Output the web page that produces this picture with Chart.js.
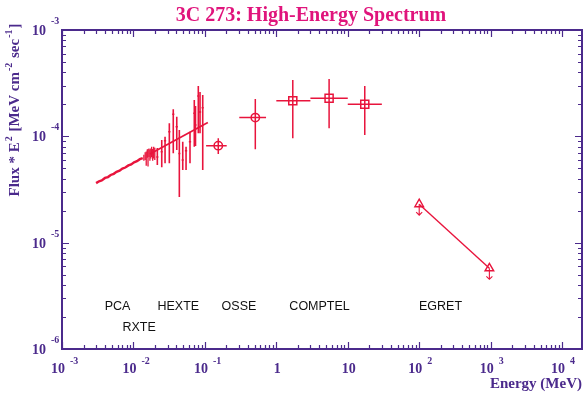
<!DOCTYPE html>
<html><head><meta charset="utf-8">
<script src="https://cdn.jsdelivr.net/npm/chart.js@4.4.1/dist/chart.umd.min.js"></script>
<style>html,body{margin:0;padding:0;background:#fff;overflow:hidden}#wrap{width:584px;height:394px}</style>
</head><body><div id="wrap"><canvas id="c" width="584" height="394"></canvas></div>
<script>
// ---------- DATA ----------
const titleText = '3C 273: High-Energy Spectrum';
const xAxisTitle = 'Energy (MeV)';
const xTickExps = [-3, -2, -1, 0, 1, 2, 3, 4];
const yTickExps = [-3, -4, -5, -6];

// RXTE PCA spectrum (dense data, drawn as a line)
const pcaE = [0.0030,0.0033,0.0036,0.0040,0.0044,0.0048,0.0053,0.0058,0.0064,0.0070,0.0077,0.0085,0.0093,0.0102,0.0112,0.0123,0.0135];
const pcaF = [3.63e-5,3.78e-5,3.85e-5,4.06e-5,4.14e-5,4.33e-5,4.44e-5,4.64e-5,4.76e-5,4.97e-5,5.09e-5,5.33e-5,5.45e-5,5.70e-5,5.83e-5,6.10e-5,6.24e-5];
// PCA high-energy channels with error bars
const pcaCE  = [0.0140,0.0146,0.0151,0.0156,0.0160,0.0165,0.0170,0.0175,0.0180,0.0186,0.0192,0.0199];
const pcaCF  = [6.30e-5,6.55e-5,6.40e-5,6.85e-5,6.60e-5,7.05e-5,6.70e-5,6.95e-5,7.20e-5,6.75e-5,7.10e-5,6.90e-5];
const pcaCLo = [5.9e-5,6.0e-5,5.3e-5,6.3e-5,5.2e-5,6.4e-5,5.9e-5,6.2e-5,6.4e-5,5.9e-5,6.2e-5,6.0e-5];
const pcaCHi = [6.7e-5,7.1e-5,7.2e-5,7.5e-5,7.6e-5,7.7e-5,7.5e-5,7.7e-5,8.0e-5,7.6e-5,8.0e-5,7.8e-5];
// RXTE HEXTE
const hexteE  = [0.0216,0.0249,0.0277,0.0318,0.0361,0.0404,0.0439,0.0490,0.0545,0.0619,0.0711,0.0739,0.0809,0.0855,0.0933];
const hexteF  = [6.39e-5,7.17e-5,9.10e-5,1.105e-4,1.612e-4,1.232e-4,6.9e-5,5.99e-5,7.33e-5,8.90e-5,1.646e-4,1.278e-4,2.395e-4,1.693e-4,1.859e-4];
const hexteLo = [5.38e-5,5.11e-5,5.58e-5,5.58e-5,6.92e-5,7.44e-5,2.69e-5,4.83e-5,4.83e-5,5.58e-5,7.99e-5,8.11e-5,1.068e-4,1.068e-4,4.83e-5];
const hexteHi = [7.77e-5,9.24e-5,9.92e-5,1.326e-4,1.796e-4,1.530e-4,1.147e-4,8.90e-5,7.99e-5,1.105e-4,2.196e-4,1.929e-4,2.973e-4,2.611e-4,2.447e-4];
const hexteELo = [0.0208,0.0240,0.0267,0.0306,0.0348,0.0389,0.0423,0.0472,0.0525,0.0596,0.0685,0.0712,0.0779,0.0824,0.0899];
const hexteEHi = [0.0224,0.0258,0.0287,0.0330,0.0374,0.0419,0.0455,0.0508,0.0565,0.0642,0.0737,0.0767,0.0839,0.0887,0.0967];
// power-law model through RXTE data
const modelE = [0.017, 0.11];
const modelF = [6.83e-5, 1.35e-4];
// CGRO OSSE
const osseE = [0.154, 0.508];
const osseELo = [0.104, 0.303];
const osseEHi = [0.202, 0.718];
const osseF = [8.17e-5, 1.50e-4];
const osseLo = [6.82e-5, 7.55e-5];
const osseHi = [9.58e-5, 2.25e-4];
// CGRO COMPTEL
const comptelE = [1.70, 5.48, 17.3];
const comptelELo = [1.0, 3.0, 10.0];
const comptelEHi = [3.0, 10.0, 30.0];
const comptelF = [2.16e-4, 2.28e-4, 2.00e-4];
const comptelLo = [9.58e-5, 1.19e-4, 1.03e-4];
const comptelHi = [3.39e-4, 3.46e-4, 2.97e-4];
// CGRO EGRET (upper limits)
const egretE = [100, 960];
const egretF = [2.30e-5, 5.74e-6];
// instrument labels
const instLabels = ['PCA', 'HEXTE', 'OSSE', 'COMPTEL', 'EGRET', 'RXTE'];
const instLabelE = [6.0e-3, 0.0425, 0.300, 4.03, 199, 0.0120];
const instLabelF = [2.33e-6, 2.33e-6, 2.33e-6, 2.33e-6, 2.33e-6, 1.48e-6];

// ---------- STYLE ----------
const RED = '#e8143c';
const PURPLE = '#4b2a8c';
const PINK = '#e0147c';
const SERIF = '"Liberation Serif", "Times New Roman", serif';
const SANS = '"Liberation Sans", Arial, sans-serif';

const pts = (xs, ys) => xs.map((x, i) => ({x: x, y: ys[i]}));
const errs = (a, b) => a.map((v, i) => [v, b[i]]);

const errorBarPlugin = {
  id: 'errbars',
  afterDatasetsDraw(chart) {
    const ctx = chart.ctx, xs = chart.scales.x, ys = chart.scales.y;
    chart.data.datasets.forEach(ds => {
      if (!ds.errY && !ds.errX && !ds.arrows) return;
      ctx.save();
      ctx.strokeStyle = RED;
      ctx.lineWidth = ds.errWidth || 1.4;
      ds.data.forEach((p, i) => {
        const px = xs.getPixelForValue(p.x), py = ys.getPixelForValue(p.y);
        ctx.beginPath();
        if (ds.errY) {
          ctx.moveTo(px, ys.getPixelForValue(ds.errY[i][0]));
          ctx.lineTo(px, ys.getPixelForValue(ds.errY[i][1]));
        }
        if (ds.errX) {
          ctx.moveTo(xs.getPixelForValue(ds.errX[i][0]), py);
          ctx.lineTo(xs.getPixelForValue(ds.errX[i][1]), py);
        }
        if (ds.arrows) {
          ctx.moveTo(px, py);
          ctx.lineTo(px, py + 11);
          ctx.moveTo(px - 3, py + 8);
          ctx.lineTo(px, py + 11);
          ctx.lineTo(px + 3, py + 8);
        }
        ctx.stroke();
      });
      ctx.restore();
    });
  }
};

function drawPow(ctx, x, y, exp, bigSize, smallSize, rise, gap) {
  ctx.font = 'bold ' + bigSize + 'px ' + SERIF;
  ctx.textAlign = 'right';
  ctx.fillText('10', x, y);
  ctx.font = 'bold ' + smallSize + 'px ' + SERIF;
  ctx.textAlign = 'left';
  ctx.fillText(String(exp), x + gap, y - rise);
}

const framePlugin = {
  id: 'frame',
  afterDraw(chart) {
    const ctx = chart.ctx, xs = chart.scales.x, ys = chart.scales.y;
    const a = chart.chartArea;
    ctx.save();
    ctx.strokeStyle = PURPLE;
    ctx.fillStyle = PURPLE;
    ctx.lineWidth = 2;
    ctx.strokeRect(a.left, a.top, a.right - a.left, a.bottom - a.top);
    ctx.lineWidth = 1.2;
    ctx.beginPath();
    // x ticks (bottom and top, pointing inward)
    for (let d = -3; d <= 4; d++) {
      for (let k = 1; k <= 9; k++) {
        const v = k * Math.pow(10, d);
        if (v < xs.min * 0.999 || v > xs.max) continue;
        const px = Math.round(xs.getPixelForValue(v)) + 0.5;
        const len = k === 1 ? 7 : 4;
        ctx.moveTo(px, a.bottom); ctx.lineTo(px, a.bottom - len);
        ctx.moveTo(px, a.top); ctx.lineTo(px, a.top + len);
      }
    }
    // y ticks (left and right, pointing inward)
    for (let d = -6; d <= -3; d++) {
      for (let k = 1; k <= 9; k++) {
        const v = k * Math.pow(10, d);
        if (v < ys.min * 0.999 || v > ys.max * 1.001) continue;
        const py = Math.round(ys.getPixelForValue(v)) + 0.5;
        const len = k === 1 ? 7 : 4;
        ctx.moveTo(a.left, py); ctx.lineTo(a.left + len, py);
        ctx.moveTo(a.right, py); ctx.lineTo(a.right - len, py);
      }
    }
    ctx.stroke();

    // x tick labels
    ctx.textBaseline = 'alphabetic';
    xTickExps.forEach(e => {
      const px = xs.getPixelForValue(Math.pow(10, e));
      if (e === 0 || e === 1) {
        ctx.font = 'bold 14px ' + SERIF;
        ctx.textAlign = 'center';
        ctx.fillText(e === 0 ? '1' : '10', px + 1, 373);
      } else {
        drawPow(ctx, px + 3, 373, e, 14, 10, 9, 5);
      }
    });
    // y tick labels
    yTickExps.forEach(e => {
      const py = ys.getPixelForValue(Math.pow(10, e));
      drawPow(ctx, 46, py + 5, e, 14, 10, 11, 5);
    });

    // x axis title
    ctx.font = 'bold 15px ' + SERIF;
    ctx.textAlign = 'right';
    ctx.fillText(xAxisTitle, a.right, 388);

    // y axis title (rotated, with superscripts)
    const parts = [['Flux * E', 0], ['2', 1], [' [MeV cm', 0], ['-2', 1], [' sec', 0], ['-1', 1], [']', 0]];
    const fMain = 'bold 15px ' + SERIF, fSup = 'bold 10px ' + SERIF;
    let total = 0;
    parts.forEach(p => { ctx.font = p[1] ? fSup : fMain; total += ctx.measureText(p[0]).width + (p[1] ? 2 : 0); });
    ctx.save();
    ctx.translate(19, 110);
    ctx.rotate(-Math.PI / 2);
    ctx.textAlign = 'left';
    let cx = -total / 2;
    parts.forEach(p => {
      ctx.font = p[1] ? fSup : fMain;
      if (p[1]) cx += 1;
      ctx.fillText(p[0], cx, p[1] ? -7 : 0);
      cx += ctx.measureText(p[0]).width + (p[1] ? 1 : 0);
    });
    ctx.restore();

    // title
    ctx.fillStyle = PINK;
    ctx.font = 'bold 20px ' + SERIF;
    ctx.textAlign = 'center';
    ctx.fillText(titleText, 311, 21);

    // instrument labels
    ctx.fillStyle = '#111';
    ctx.font = '12.5px ' + SANS;
    ctx.textAlign = 'center';
    instLabels.forEach((t, i) => {
      ctx.fillText(t, xs.getPixelForValue(instLabelE[i]), ys.getPixelForValue(instLabelF[i]));
    });
    ctx.restore();
  }
};

new Chart(document.getElementById('c').getContext('2d'), {
  type: 'scatter',
  data: {
    datasets: [
      {data: pts(pcaE, pcaF), showLine: true, borderColor: RED, borderWidth: 2.4, pointRadius: 0},
      {data: pts(modelE, modelF), showLine: true, borderColor: RED, borderWidth: 1.7, pointRadius: 0},
      {data: pts(pcaCE, pcaCF), pointRadius: 0, errY: errs(pcaCLo, pcaCHi),
        errX: pcaCE.map(e => [e * 0.985, e * 1.015]), errWidth: 1.3},
      {data: pts(hexteE, hexteF), pointRadius: 0, errY: errs(hexteLo, hexteHi), errX: errs(hexteELo, hexteEHi), errWidth: 1.6},
      {data: pts(osseE, osseF), pointStyle: 'circle', pointRadius: 4.2, borderColor: RED, borderWidth: 1.5,
        backgroundColor: 'rgba(0,0,0,0)', errY: errs(osseLo, osseHi), errX: errs(osseELo, osseEHi), errWidth: 1.5},
      {data: pts(comptelE, comptelF), pointStyle: 'rect', pointRadius: 5.7, borderColor: RED, borderWidth: 1.5,
        backgroundColor: 'rgba(0,0,0,0)', errY: errs(comptelLo, comptelHi), errX: errs(comptelELo, comptelEHi), errWidth: 1.5},
      {data: pts(egretE, egretF), showLine: true, pointStyle: 'triangle', pointRadius: 5, borderColor: RED,
        borderWidth: 1.4, backgroundColor: 'rgba(0,0,0,0)', arrows: true, errWidth: 1.1}
    ]
  },
  options: {
    responsive: false,
    animation: false,
    devicePixelRatio: 1,
    layout: {autoPadding: false, padding: {left: 62, right: 2, top: 30, bottom: 45}},
    plugins: {legend: {display: false}, tooltip: {enabled: false}, title: {display: false}},
    scales: {
      x: {type: 'logarithmic', min: 1e-3, max: 19000, display: false},
      y: {type: 'logarithmic', min: 1e-6, max: 1e-3, display: false}
    }
  },
  plugins: [errorBarPlugin, framePlugin]
});
</script>
</body></html>
